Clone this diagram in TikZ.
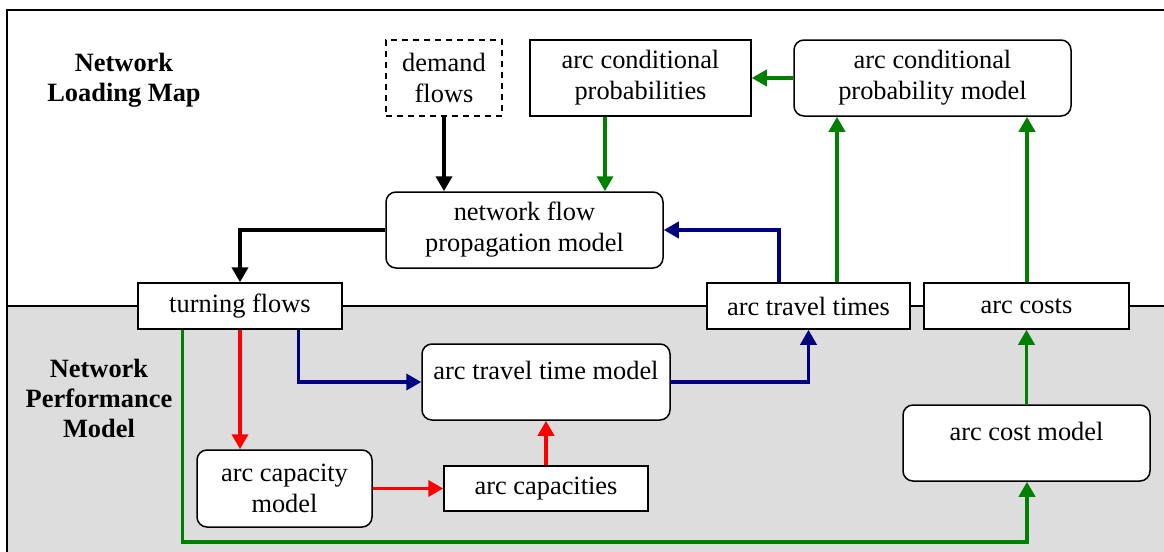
\documentclass[tikz,border=0pt]{standalone}
\usepackage{fontspec}
\setmainfont{Liberation Serif}
\usetikzlibrary{arrows.meta}
\definecolor{bgray}{RGB}{221,221,221}
\definecolor{lgreen}{RGB}{0,128,0}
\definecolor{lnavy}{RGB}{0,0,128}
\definecolor{lred}{RGB}{255,0,0}
\begin{document}
\begin{tikzpicture}[x=0.5pt,y=-0.5pt,
  every node/.style={font=\fontsize{13.2}{15.5}\selectfont},
  sbox/.style={draw, fill=white, line width=0.75pt, inner sep=0pt, align=center},
  rbox/.style={sbox, rounded corners=5pt},
  dbox/.style={sbox, dash pattern=on 3pt off 2.5pt},
  link/.style={line width=1.8pt, -{Triangle[length=7.5pt,width=8pt]}},
  blink/.style={link, line width=2pt},
  ttl/.style={font=\fontsize{13.2}{15}\selectfont\bfseries, align=center}
]
\useasboundingbox (0,0) rectangle (1164,552);
% background
\fill[bgray] (7,306) rectangle (1164,552);
\draw[line width=0.75pt] (1164,10) -- (7,10) -- (7,552);
\draw[line width=0.75pt] (7,306) -- (1164,306);

% titles
\node[ttl] (t1) at (124,80) {Network\\Loading Map};
\node[ttl] (t2) at (99,398) {Network\\Performance\\Model};

% nodes
\node[dbox, minimum width=58pt, minimum height=38pt] (demand) at (444,78) {demand\\flows};
\node[sbox, minimum width=110.5pt, minimum height=38pt] (acp) at (640.5,78) {arc conditional\\probabilities};
\node[rbox, minimum width=138.5pt, minimum height=38pt] (acpm) at (932.5,78) {arc conditional\\probability model};
\node[rbox, minimum width=138.5pt, minimum height=38pt] (nfp) at (524.5,230) {network flow\\propagation model};
\node[sbox, minimum width=102pt, minimum height=23pt] (tf) at (240,306) {turning flows};
\node[sbox, minimum width=101.5pt, minimum height=23pt] (att) at (808.5,306) {arc travel times};
\node[sbox, minimum width=102.5pt, minimum height=23pt] (ac) at (1026.5,306) {arc costs};
\node[rbox, minimum width=124pt, minimum height=38pt] (attm) at (546,382) {arc travel time model\\[-8pt]\strut};
\node[rbox, minimum width=87.5pt, minimum height=38.5pt] (acm) at (284.5,488.5) {arc capacity\\model};
\node[sbox, minimum width=102pt, minimum height=22.5pt] (acap) at (546,488.5) {arc capacities};
\node[rbox, minimum width=123.5pt, minimum height=38pt] (acostm) at (1026.5,443) {arc cost model\\[-8pt]\strut};

% helper coordinates
\coordinate (gx1) at (605,0);
\coordinate (gx2) at (837,0);
\coordinate (gx3) at (1027,0);
\coordinate (bx1) at (779,0);
\coordinate (gx4) at (182.5,0);
\coordinate (bx2) at (298.5,0);
\coordinate (bot) at (0,542);

% top connectors
\draw[blink] (demand.south) -- (demand.south |- nfp.north);
\draw[link, lgreen] (acp.south -| gx1) -- (nfp.north -| gx1);
\draw[link, lgreen] (acpm.west) -- (acp.east);
\draw[link, lgreen] (att.north -| gx2) -- (acpm.south -| gx2);
\draw[link, lgreen] (ac.north -| gx3) -- (acpm.south -| gx3);
\draw[link, lnavy] (att.north -| bx1) |- (nfp.east);
\draw[blink] (nfp.west) -| (tf.north);

% bottom connectors
\draw[link, lgreen] (tf.south -| gx4) |- (bot -| gx3) -- (acostm.south -| gx3);
\draw[link, lred] (tf.south) -- (tf.south |- acm.north);
\draw[link, lnavy] (tf.south -| bx2) |- (attm.west);
\draw[link, lred] (acm.east) -- (acap.west);
\draw[link, lred] (acap.north) -- (attm.south);
\draw[link, lnavy] (attm.east) -| (att.south);
\draw[link, lgreen] (acostm.north) -- (ac.south);
\end{tikzpicture}
\end{document}
